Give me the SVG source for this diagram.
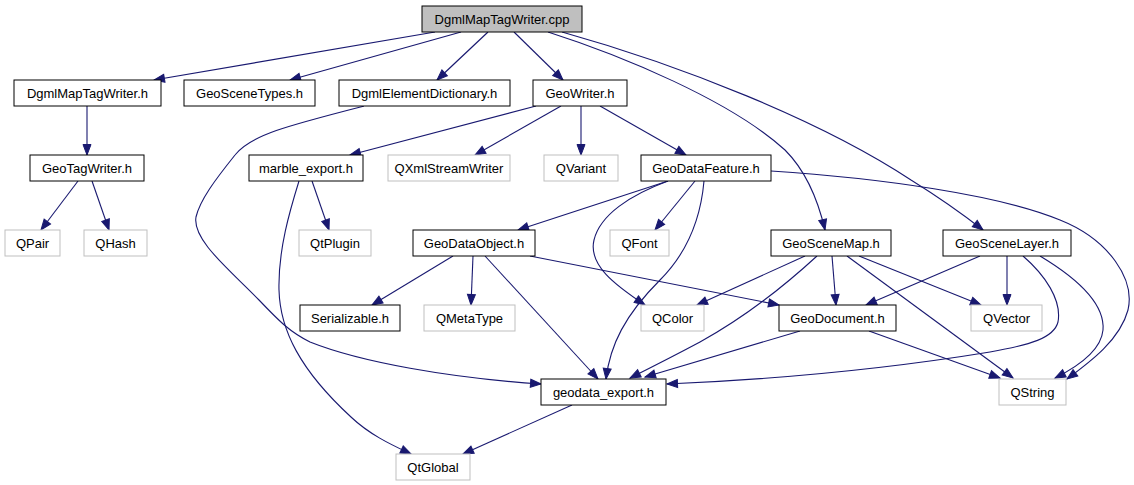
<svg xmlns="http://www.w3.org/2000/svg" width="1134" height="485" viewBox="0 0 1134 485">
<style>
.n rect{fill:#ffffff;stroke:#000000;stroke-width:1}
.x rect{fill:#ffffff;stroke:#bfbfbf;stroke-width:1}
.r rect{fill:#bfbfbf;stroke:#000000;stroke-width:1}
text{font-family:"Liberation Sans",Arial,sans-serif;font-size:13px;fill:#000000;text-anchor:middle}
.e path{fill:none;stroke:#191970;stroke-width:1.1;marker-end:url(#a)}
</style>
<defs>
<marker id="a" markerWidth="12" markerHeight="10" refX="10.5" refY="4" orient="auto" markerUnits="userSpaceOnUse" overflow="visible">
<path d="M0,0 L10.5,4 L0,8 z" fill="#191970" stroke="#191970" stroke-width="1"/>
</marker>
</defs>
<rect width="1134" height="485" fill="#ffffff"/>
<g class="e" id="edges">
<path d="M435,32 L154,80"/>
<path d="M461,32 L290,80"/>
<path d="M488,32 L437,80"/>
<path d="M514,32 L563,80"/>
<path d="M548,32 C620,55 730,100 785,150 C805,170 818,200 825,230"/>
<path d="M562,32 C680,65 820,120 911,180 C940,198 960,212 983,230"/>
<path d="M87,106 L87,155"/>
<path d="M78,181 L41,230"/>
<path d="M92,181 L109,230"/>
<path d="M364,106 C290,125 250,135 235,155 C215,180 200,200 196,217 C192,240 230,270 259,300 C280,322 290,332 310,342 C360,362 450,378 541,384"/>
<path d="M536,106 L350,155"/>
<path d="M561,106 L475,155"/>
<path d="M581,106 L581,155"/>
<path d="M600,106 L686,155"/>
<path d="M312,181 L329,230"/>
<path d="M299,181 C290,210 278,250 279,290 C280,330 300,370 351,417 C370,435 392,445 411,454"/>
<path d="M668,181 L518,230"/>
<path d="M668,181 C630,195 600,215 594,240 C588,265 615,285 645,305"/>
<path d="M695,181 L655,230"/>
<path d="M704,181 C701,215 690,250 660,280 C625,315 610,345 606,379"/>
<path d="M771,171 C880,178 1000,195 1060,220 C1110,240 1135,280 1128,310 C1120,340 1090,362 1067,379"/>
<path d="M453,256 L372,305"/>
<path d="M473,256 L471,305"/>
<path d="M485,256 L598,379"/>
<path d="M530,256 L779,305"/>
<path d="M805,256 L697,305"/>
<path d="M817,256 C780,290 740,320 700,342 C670,358 650,368 630,378"/>
<path d="M832,256 L836,305"/>
<path d="M847,256 L1013,378"/>
<path d="M859,256 L981,305"/>
<path d="M980,256 L866,305"/>
<path d="M1007,256 L1007,305"/>
<path d="M1023,256 C1045,275 1062,300 1058,322 C1054,338 1030,345 990,352 C880,370 760,380 667,384"/>
<path d="M1040,256 C1080,280 1105,305 1103,330 C1101,352 1075,368 1055,378"/>
<path d="M800,331 L645,377"/>
<path d="M869,331 L1000,378"/>
<path d="M572,405 L463,454"/>
</g>
<g class="r" id="DgmlMapTagWriter_cpp"><rect x="422" y="6" width="160" height="26"/><text x="502" y="23.5">DgmlMapTagWriter.cpp</text></g>
<g class="n" id="DgmlMapTagWriter_h"><rect x="14" y="80" width="147" height="26"/><text x="87.5" y="97.5">DgmlMapTagWriter.h</text></g>
<g class="n" id="GeoSceneTypes_h"><rect x="184" y="80" width="131" height="26"/><text x="249.5" y="97.5">GeoSceneTypes.h</text></g>
<g class="n" id="DgmlElementDictionary_h"><rect x="339" y="80" width="171" height="26"/><text x="424.5" y="97.5">DgmlElementDictionary.h</text></g>
<g class="n" id="GeoWriter_h"><rect x="533" y="80" width="94" height="26"/><text x="580" y="97.5">GeoWriter.h</text></g>
<g class="n" id="GeoTagWriter_h"><rect x="30" y="155" width="114" height="26"/><text x="87" y="172.5">GeoTagWriter.h</text></g>
<g class="n" id="marble_export_h"><rect x="249" y="155" width="114" height="26"/><text x="306" y="172.5">marble_export.h</text></g>
<g class="x" id="QXmlStreamWriter"><rect x="388" y="155" width="122" height="26"/><text x="449" y="172.5">QXmlStreamWriter</text></g>
<g class="x" id="QVariant"><rect x="544" y="155" width="74" height="26"/><text x="581" y="172.5">QVariant</text></g>
<g class="n" id="GeoDataFeature_h"><rect x="641" y="155" width="130" height="26"/><text x="706" y="172.5">GeoDataFeature.h</text></g>
<g class="x" id="QPair"><rect x="5" y="230" width="55" height="26"/><text x="32.5" y="247.5">QPair</text></g>
<g class="x" id="QHash"><rect x="84" y="230" width="63" height="26"/><text x="115.5" y="247.5">QHash</text></g>
<g class="x" id="QtPlugin"><rect x="299" y="230" width="72" height="26"/><text x="335" y="247.5">QtPlugin</text></g>
<g class="n" id="GeoDataObject_h"><rect x="413" y="230" width="122" height="26"/><text x="474" y="247.5">GeoDataObject.h</text></g>
<g class="x" id="QFont"><rect x="610" y="230" width="59" height="26"/><text x="639.5" y="247.5">QFont</text></g>
<g class="n" id="GeoSceneMap_h"><rect x="771" y="230" width="120" height="26"/><text x="831" y="247.5">GeoSceneMap.h</text></g>
<g class="n" id="GeoSceneLayer_h"><rect x="943" y="230" width="128" height="26"/><text x="1007" y="247.5">GeoSceneLayer.h</text></g>
<g class="n" id="Serializable_h"><rect x="300" y="305" width="100" height="26"/><text x="350" y="322.5">Serializable.h</text></g>
<g class="x" id="QMetaType"><rect x="424" y="305" width="91" height="26"/><text x="469.5" y="322.5">QMetaType</text></g>
<g class="x" id="QColor"><rect x="641" y="305" width="63" height="26"/><text x="672.5" y="322.5">QColor</text></g>
<g class="n" id="GeoDocument_h"><rect x="779" y="305" width="117" height="26"/><text x="837.5" y="322.5">GeoDocument.h</text></g>
<g class="x" id="QVector"><rect x="971" y="305" width="71" height="26"/><text x="1006.5" y="322.5">QVector</text></g>
<g class="n" id="geodata_export_h"><rect x="541" y="379" width="125" height="26"/><text x="603.5" y="396.5">geodata_export.h</text></g>
<g class="x" id="QString"><rect x="999" y="379" width="67" height="26"/><text x="1032.5" y="396.5">QString</text></g>
<g class="x" id="QtGlobal"><rect x="396" y="454" width="74" height="26"/><text x="433" y="471.5">QtGlobal</text></g>
</svg>
